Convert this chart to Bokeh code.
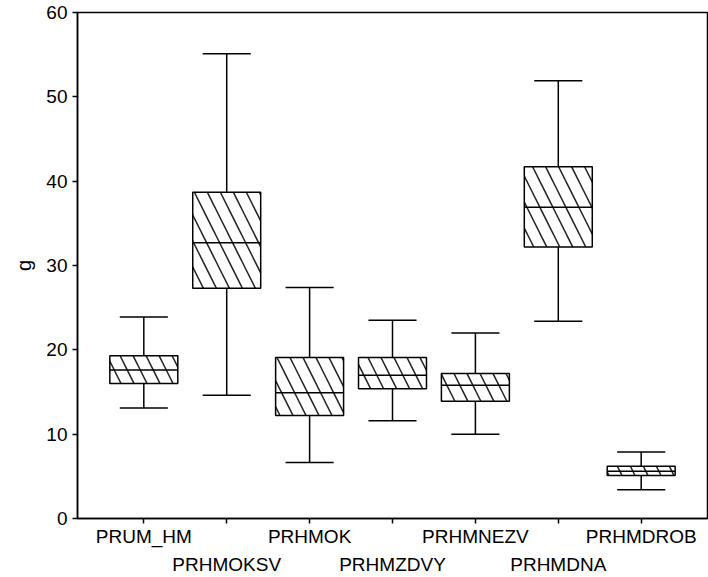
import numpy as np
from bokeh.plotting import figure
from bokeh.models import ColumnDataSource, FixedTicker, LinearAxis
from bokeh.embed import file_html
from bokeh.resources import INLINE

categories = ["PRUM_HM", "PRHMOKSV", "PRHMOK", "PRHMZDVY", "PRHMNEZV", "PRHMDNA", "PRHMDROB"]
upper = [23.9, 55.1, 27.4, 23.5, 22.0, 51.9, 7.9]
q3 = [19.3, 38.7, 19.1, 19.1, 17.2, 41.7, 6.2]
median = [17.6, 32.7, 14.9, 17.0, 15.8, 36.9, 5.6]
q1 = [16.0, 27.3, 12.2, 15.4, 13.9, 32.2, 5.1]
lower = [13.1, 14.6, 6.65, 11.6, 10.0, 23.4, 3.4]
y_ticks = [0, 10, 20, 30, 40, 50, 60]

xs = np.arange(1, len(categories) + 1)
box_w = 0.82
cap_w = 0.58

src = ColumnDataSource(dict(
    x=xs, upper=upper, q3=q3, med=median, q1=q1, lower=lower,
    left=xs - box_w / 2, right=xs + box_w / 2,
    cl=xs - cap_w / 2, cr=xs + cap_w / 2,
))

p = figure(width=708, height=577, output_backend="svg", toolbar_location=None,
           x_range=(0.2, 7.8), y_range=(0, 60),
           min_border_left=77, min_border_right=1, min_border_top=12, min_border_bottom=10)
p.background_fill_color = "white"
p.border_fill_color = "white"
p.outline_line_color = "black"
p.outline_line_width = 1.5
p.xgrid.grid_line_color = None
p.ygrid.grid_line_color = None

# whiskers
p.segment(x0="x", y0="q3", x1="x", y1="upper", source=src, line_color="black", line_width=1.5)
p.segment(x0="x", y0="lower", x1="x", y1="q1", source=src, line_color="black", line_width=1.5)
p.segment(x0="cl", y0="upper", x1="cr", y1="upper", source=src, line_color="black", line_width=1.5)
p.segment(x0="cl", y0="lower", x1="cr", y1="lower", source=src, line_color="black", line_width=1.5)

# boxes
p.quad(left="left", right="right", bottom="q1", top="q3", source=src,
       fill_color="white", line_color="black", line_width=1.5,
       hatch_pattern="left_diagonal_line", hatch_color="#222222",
       hatch_scale=26, hatch_weight=1.5)
p.segment(x0="left", y0="med", x1="right", y1="med", source=src, line_color="black", line_width=1.5)

FONT = "Liberation Sans"

# primary x axis: ticks at every category, labels for odd positions
p.xaxis.ticker = FixedTicker(ticks=list(xs))
p.xaxis.major_label_overrides = {
    int(x): (c if i % 2 == 0 else "") for i, (x, c) in enumerate(zip(xs, categories))
}
# second row of labels for even positions
ax2 = LinearAxis(ticker=FixedTicker(ticks=list(xs)))
ax2.major_label_overrides = {
    int(x): (c if i % 2 == 1 else "") for i, (x, c) in enumerate(zip(xs, categories))
}
ax2.axis_line_color = None
ax2.major_tick_line_color = None
ax2.minor_tick_line_color = None
ax2.major_tick_in = 0
ax2.major_tick_out = 0
ax2.major_label_standoff = 4
ax2.major_label_text_font = FONT
ax2.major_label_text_font_size = "19px"
ax2.major_label_text_color = "black"
p.add_layout(ax2, "below")

p.yaxis.ticker = FixedTicker(ticks=y_ticks)
for ax in (p.xaxis[0], p.yaxis[0]):
    ax.axis_line_color = "black"
    ax.axis_line_width = 1.5
    ax.major_tick_line_color = "black"
    ax.major_tick_line_width = 1.5
    ax.major_tick_in = 0
    ax.major_tick_out = 5
    ax.minor_tick_line_color = None
    ax.major_label_text_font = FONT
    ax.major_label_text_font_size = "19px"
    ax.major_label_text_color = "black"
p.xaxis[0].major_label_standoff = 2
p.yaxis.major_label_standoff = 5
p.yaxis.axis_label = "g"
p.yaxis.axis_label_text_font = FONT
p.yaxis.axis_label_text_font_size = "20px"
p.yaxis.axis_label_text_font_style = "normal"
p.yaxis.axis_label_text_color = "black"
p.yaxis.axis_label_standoff = 8

open("out.html", "w").write(file_html(p, INLINE))
